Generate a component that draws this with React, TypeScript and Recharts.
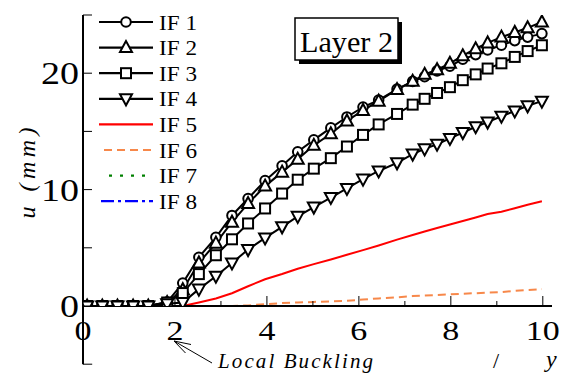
import React from "react";
import { LineChart, Line, XAxis, YAxis, ReferenceLine, Legend } from "recharts";

// displacement ratio (x) at each recorded step
const xSteps = [0.09, 0.42, 0.75, 1.09, 1.42, 1.83, 2.17, 2.52, 2.89, 3.24, 3.59, 3.96, 4.33, 4.67, 5.02, 5.39, 5.74, 6.09, 6.43, 6.83, 7.17, 7.43, 7.7, 7.98, 8.26, 8.54, 8.8, 9.1, 9.39, 9.67, 9.98];

const if1 = [0, 0, 0, 0, 0, 0.34, 1.97, 4.19, 5.9, 7.78, 9.23, 10.77, 12.05, 13.25, 14.27, 15.3, 16.24, 17.09, 17.69, 18.63, 19.3, 19.7, 20.2, 20.6, 21.2, 21.6, 22.0, 22.4, 22.8, 23.1, 23.4];
const if2 = [0, 0, 0, 0, 0, 0.3, 1.4, 3.7, 5.4, 7.2, 8.8, 10.3, 11.5, 12.6, 13.8, 14.8, 15.9, 16.8, 17.6, 18.6, 19.3, 19.9, 20.3, 20.85, 21.5, 22.1, 22.6, 23.1, 23.5, 23.9, 24.4];
const if3 = [0, 0, 0, 0, 0, 0.3, 1.11, 2.74, 4.36, 5.73, 7.09, 8.38, 9.66, 10.85, 11.8, 12.7, 13.7, 14.7, 15.6, 16.5, 17.3, 17.8, 18.3, 18.8, 19.4, 19.9, 20.4, 20.85, 21.4, 21.9, 22.4];
const if4 = [0, 0, 0, 0, 0, 0.2, 0.3, 1.45, 2.56, 3.7, 4.85, 5.85, 6.8, 7.7, 8.5, 9.32, 10.1, 10.9, 11.6, 12.3, 13.05, 13.5, 13.9, 14.4, 14.9, 15.4, 15.8, 16.3, 16.75, 17.2, 17.6];
const if5 = [0, 0, 0, 0, 0, 0, 0, 0.3, 0.65, 1.1, 1.7, 2.3, 2.75, 3.2, 3.6, 4.0, 4.4, 4.8, 5.2, 5.7, 6.1, 6.4, 6.7, 7.0, 7.3, 7.6, 7.9, 8.1, 8.4, 8.7, 9.0];
const if6 = [0, 0, 0, 0, 0, 0, 0, 0, 0, 0, 0.05, 0.15, 0.25, 0.3, 0.35, 0.4, 0.45, 0.55, 0.65, 0.75, 0.85, 0.9, 0.95, 1.0, 1.05, 1.1, 1.15, 1.2, 1.3, 1.38, 1.45];
const if7 = [0, 0, 0, 0, 0, 0, 0, 0, 0, 0, 0, 0, 0, 0, 0, 0, 0, 0, 0, 0, 0, 0, 0, 0, 0, 0, 0, 0, 0, 0, 0];
const if8 = [0, 0, 0, 0, 0, 0, 0, 0, 0, 0, 0, 0, 0, 0, 0, 0, 0, 0, 0, 0, 0, 0, 0, 0, 0, 0, 0, 0, 0, 0, 0];

const seriesNames = ["IF 1", "IF 2", "IF 3", "IF 4", "IF 5", "IF 6", "IF 7", "IF 8"];
const xTicks = [0, 1, 2, 3, 4, 5, 6, 7, 8, 9, 10];
const xLabels = [0, 2, 4, 6, 8, 10];
const yTicks = [0, 5, 10, 15, 20, 25];
const yLabels = [0, 10, 20];

const FONT = "Liberation Serif, Times New Roman, serif";
const serif = { fontFamily: FONT };

const allValues = [if1, if2, if3, if4, if5, if6, if7, if8];
const rows = xSteps.map((x, i) => {
  const r: any = { x };
  allValues.forEach((arr, k) => (r[`if${k + 1}`] = arr[i]));
  return r;
});

type Marker = "circle" | "up" | "square" | "down" | null;
const SERIES: { key: string; name: string; color: string; dash?: string; marker: Marker; lx0: number }[] = [
  { key: "if1", name: seriesNames[0], color: "#000000", marker: "circle", lx0: 9 },
  { key: "if2", name: seriesNames[1], color: "#000000", marker: "up", lx0: 9 },
  { key: "if3", name: seriesNames[2], color: "#000000", marker: "square", lx0: 9 },
  { key: "if4", name: seriesNames[3], color: "#000000", marker: "down", lx0: 9 },
  { key: "if5", name: seriesNames[4], color: "#ff0000", marker: null, lx0: 9 },
  { key: "if6", name: seriesNames[5], color: "#f7884a", dash: "8 5", marker: null, lx0: 14 },
  { key: "if7", name: seriesNames[6], color: "#008000", dash: "3 8", marker: null, lx0: 19 },
  { key: "if8", name: seriesNames[7], color: "#0000ff", dash: "13 4 3 4", marker: null, lx0: 11 },
];

function MarkerShape({ type, cx, cy }: { type: Marker; cx: number; cy: number }) {
  const common = { fill: "#ffffff", stroke: "#000000", strokeWidth: 2 };
  if (type === "circle") return <circle cx={cx} cy={cy} r={4.8} {...common} />;
  if (type === "square") return <rect x={cx - 5} y={cy - 5} width={10} height={10} {...common} />;
  if (type === "up")
    return <polygon points={`${cx},${cy - 6.5} ${cx - 6},${cy + 4.5} ${cx + 6},${cy + 4.5}`} {...common} />;
  if (type === "down")
    return <polygon points={`${cx - 6},${cy - 4.5} ${cx + 6},${cy - 4.5} ${cx},${cy + 6.5}`} {...common} />;
  return null;
}

const makeDot = (type: Marker) => (props: any) => {
  const { cx, cy, index } = props;
  if (cx == null || cy == null) return <g key={`e-${index}`} />;
  return (
    <g key={`d-${type}-${index}`}>
      <MarkerShape type={type} cx={cx} cy={cy} />
    </g>
  );
};

const XTick = (props: any) => {
  const { x, y, payload } = props;
  const v = payload.value;
  const major = v % 2 === 0;
  const label = xLabels.includes(v);
  const txt = String(v);
  return (
    <g>
      <line x1={x} y1={y} x2={x} y2={y - (major ? 10 : 5)} stroke="#000" strokeWidth={1} />
      {label && (
        <text
          x={x}
          y={y + 34}
          textAnchor="middle"
          style={serif}
          fontSize={27}
          fill="#000"
          textLength={17 * txt.length}
          lengthAdjust="spacingAndGlyphs"
        >
          {txt}
        </text>
      )}
    </g>
  );
};

const YTick = (props: any) => {
  const { x, y, payload } = props;
  const v = payload.value;
  const txt = String(v);
  return (
    <g>
      <line x1={x} y1={y} x2={x + 9} y2={y} stroke="#000" strokeWidth={1} />
      {yLabels.includes(v) && (
        <text
          x={x - 4}
          y={y + 11}
          textAnchor="end"
          style={serif}
          fontSize={32}
          fill="#000"
          textLength={19 * txt.length}
          lengthAdjust="spacingAndGlyphs"
        >
          {txt}
        </text>
      )}
    </g>
  );
};

const renderLegend = () => (
  <svg width={130} height={215} style={{ display: "block" }}>
    {SERIES.map((s, i) => {
      const cy = 14 + i * 25.6;
      return (
        <g key={s.key}>
          <line x1={s.lx0} y1={cy} x2={63} y2={cy} stroke={s.color} strokeWidth={2.2} strokeDasharray={s.dash} />
          {s.marker && <MarkerShape type={s.marker} cx={36} cy={cy} />}
          <text x={69} y={cy + 7.5} style={serif} fontSize={22} fill="#000" textLength={38} lengthAdjust="spacingAndGlyphs">
            {s.name}
          </text>
        </g>
      );
    })}
  </svg>
);

export default function App() {
  return (
    <div style={{ position: "absolute", left: 0, top: 0, width: 568, height: 374, background: "#fff" }}>
      <LineChart width={568} height={374} data={rows} margin={{ top: 15, right: 16, bottom: 67, left: 82 }}>
        <XAxis
          type="number"
          dataKey="x"
          domain={[0, 10.2]}
          ticks={xTicks}
          interval={0}
          height={1}
          tickSize={0}
          tickMargin={0}
          tickLine={false}
          tick={XTick}
          axisLine={{ stroke: "#000", strokeWidth: 2 }}
          allowDataOverflow
        />
        <YAxis
          type="number"
          domain={[0, 25]}
          ticks={yTicks}
          interval={0}
          width={1}
          tickSize={0}
          tickMargin={0}
          tickLine={false}
          tick={YTick}
          axisLine={{ stroke: "#000", strokeWidth: 2 }}
          allowDataOverflow
        />
        <ReferenceLine
          segment={[{ x: 0, y: 0 }, { x: 0, y: -5 }]}
          stroke="#000"
          strokeWidth={2}
          ifOverflow="visible"
        />
        <ReferenceLine
          segment={[{ x: 0, y: -5 }, { x: 0.2, y: -5 }]}
          stroke="#000"
          strokeWidth={1}
          ifOverflow="visible"
        />
        {SERIES.map((s) => (
          <Line
            key={s.key}
            type="linear"
            dataKey={s.key}
            name={s.name}
            stroke={s.color}
            strokeWidth={2}
            strokeDasharray={s.dash}
            dot={s.marker ? makeDot(s.marker) : false}
            activeDot={false}
            isAnimationActive={false}
          />
        ))}
        <Legend
          layout="vertical"
          align="center"
          verticalAlign="middle"
          content={renderLegend}
          wrapperStyle={{ left: 90, top: 8, width: 130, height: 215 }}
        />
      </LineChart>
      <svg
        width={568}
        height={374}
        style={{ position: "absolute", left: 0, top: 0, pointerEvents: "none" }}
      >
        <text
          transform="translate(35,173) rotate(-90)"
          textAnchor="middle"
          style={serif}
          fontStyle="italic"
          fontSize={24}
          fill="#000"
          textLength={91}
          lengthAdjust="spacing"
        >
          u (mm)
        </text>
        <rect x={299} y={22} width={103} height={42} fill="#000" />
        <rect x={295} y={18} width={103} height={42} fill="#fff" stroke="#000" strokeWidth={1.5} />
        <text x={300} y={52} style={serif} fontSize={30} fill="#000" textLength={93} lengthAdjust="spacingAndGlyphs">
          Layer 2
        </text>
        <line x1={212} y1={363} x2={174} y2={341} stroke="#000" strokeWidth={1} />
        <polyline points="191,344.5 174,341 185.5,353" fill="none" stroke="#000" strokeWidth={1} />
        <text
          x={218}
          y={368}
          style={serif}
          fontStyle="italic"
          fontSize={21}
          fill="#000"
          textLength={155}
          lengthAdjust="spacing"
        >
          Local Buckling
        </text>
        <text x={493} y={368} style={serif} fontSize={22} fill="#000">
          /
        </text>
        <text x={546} y={367} style={serif} fontStyle="italic" fontSize={24} fill="#000">
          y
        </text>
      </svg>
    </div>
  );
}
